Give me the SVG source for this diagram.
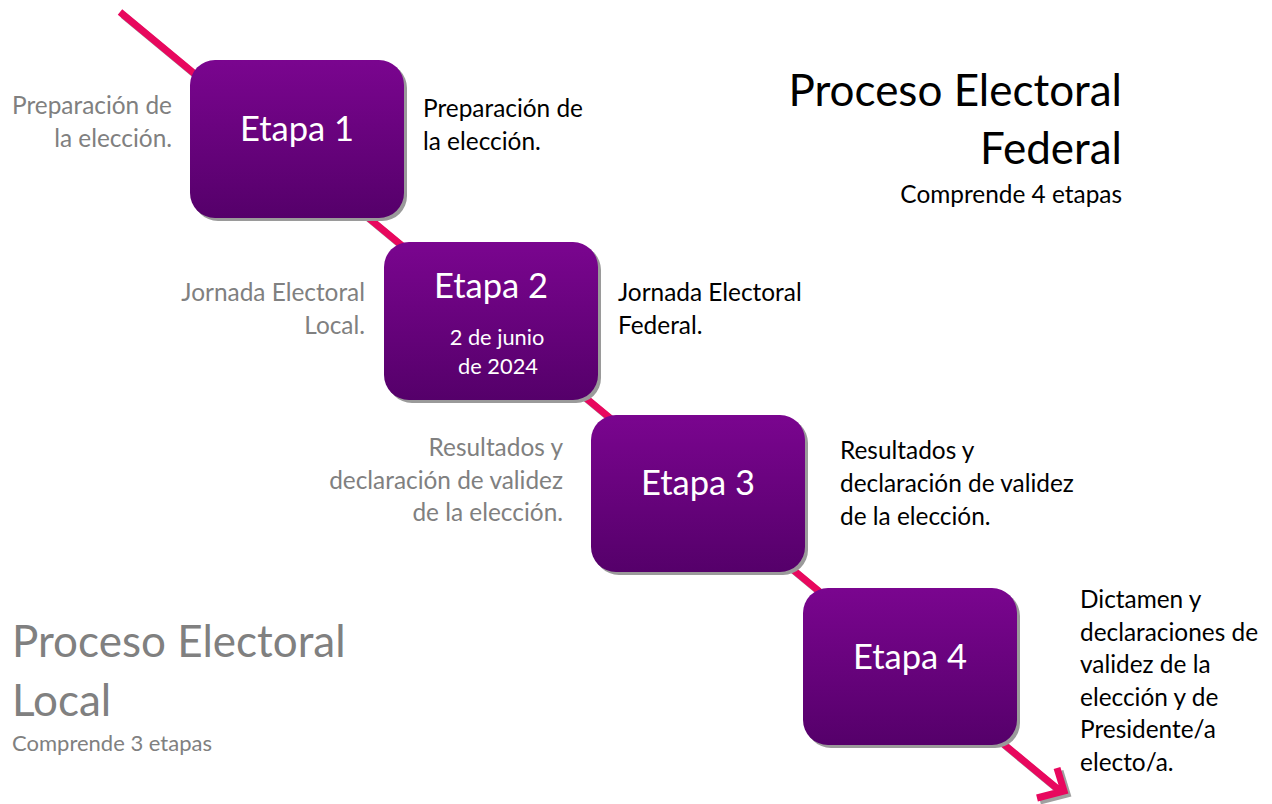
<svg xmlns="http://www.w3.org/2000/svg" width="1272" height="804" viewBox="0 0 1272 804">
<defs>
<linearGradient id="g" x1="0" y1="0" x2="0" y2="1">
<stop offset="0" stop-color="#7a058f"/>
<stop offset="1" stop-color="#55006a"/>
</linearGradient>
<style>
text{font-family:Lato,"Open Sans",sans-serif}
.etapa{fill:#fff;font-size:34.5px;text-anchor:middle}
.date{fill:#fff;font-size:21.8px;text-anchor:middle}
.gl{fill:#808080;font-size:24.4px;text-anchor:end}
.bl{fill:#000;font-size:24.4px}
.box{fill:url(#g)}
.sh{fill:#9a9a9a}
.ln{stroke:#e8085e;stroke-width:7;fill:none;stroke-linecap:butt}
.lnsh{stroke:#a0a0a0;stroke-width:7;fill:none}
</style>
</defs>
<rect width="1272" height="804" fill="#fff"/>
<g id="connectors">
<path class="lnsh" d="M123,15 L1062,793 M1040,801 L1067,794 L1060,771"/>
<path class="ln" d="M120,12 L1059,790 M1037,798 L1064,791 L1057,768"/>
</g>
<g id="etapa1">
<rect class="sh" x="193" y="63" width="214" height="158" rx="25"/>
<rect class="box" x="190" y="60" width="214" height="158" rx="25"/>
<text class="etapa" x="297" y="141">Etapa 1</text>
</g>
<g id="etapa2">
<rect class="sh" x="387" y="245" width="214" height="158" rx="25"/>
<rect class="box" x="384" y="242" width="214" height="158" rx="25"/>
<text class="etapa" x="491" y="298">Etapa 2</text>
<text class="date" x="497" y="345">2 de junio</text>
<text class="date" x="498" y="374">de 2024</text>
</g>
<g id="etapa3">
<rect class="sh" x="594" y="418" width="214" height="157" rx="25"/>
<rect class="box" x="591" y="415" width="214" height="157" rx="25"/>
<text class="etapa" x="698" y="495">Etapa 3</text>
</g>
<g id="etapa4">
<rect class="sh" x="806" y="591" width="214" height="157" rx="25"/>
<rect class="box" x="803" y="588" width="214" height="157" rx="25"/>
<text class="etapa" x="910" y="669">Etapa 4</text>
</g>
<g id="local-labels">
<text class="gl" x="172" y="114">Preparación de</text>
<text class="gl" x="172" y="147">la elección.</text>
<text class="gl" x="365" y="301">Jornada Electoral</text>
<text class="gl" x="365" y="334">Local.</text>
<text class="gl" x="563" y="456">Resultados y</text>
<text class="gl" x="563" y="489">declaración de validez</text>
<text class="gl" x="563" y="521">de la elección.</text>
</g>
<g id="federal-labels">
<text class="bl" x="423" y="117">Preparación de</text>
<text class="bl" x="423" y="150">la elección.</text>
<text class="bl" x="618" y="301">Jornada Electoral</text>
<text class="bl" x="618" y="334">Federal.</text>
<text class="bl" x="840" y="459">Resultados y</text>
<text class="bl" x="840" y="492">declaración de validez</text>
<text class="bl" x="840" y="525">de la elección.</text>
<text class="bl" x="1080" y="608">Dictamen y</text>
<text class="bl" x="1080" y="641">declaraciones de</text>
<text class="bl" x="1080" y="673">validez de la</text>
<text class="bl" x="1080" y="706">elección y de</text>
<text class="bl" x="1080" y="738">Presidente/a</text>
<text class="bl" x="1080" y="771">electo/a.</text>
</g>
<g id="title-federal">
<text x="1122" y="106" font-size="44" text-anchor="end" fill="#000">Proceso Electoral</text>
<text x="1122" y="164" font-size="44" text-anchor="end" fill="#000">Federal</text>
<text x="1122" y="203" font-size="24.4" text-anchor="end" fill="#000">Comprende 4 etapas</text>
</g>
<g id="title-local">
<text x="12" y="657" font-size="44" fill="#808080">Proceso Electoral</text>
<text x="12" y="716" font-size="44" fill="#808080">Local</text>
<text x="12" y="751" font-size="22" fill="#808080">Comprende 3 etapas</text>
</g>
</svg>
